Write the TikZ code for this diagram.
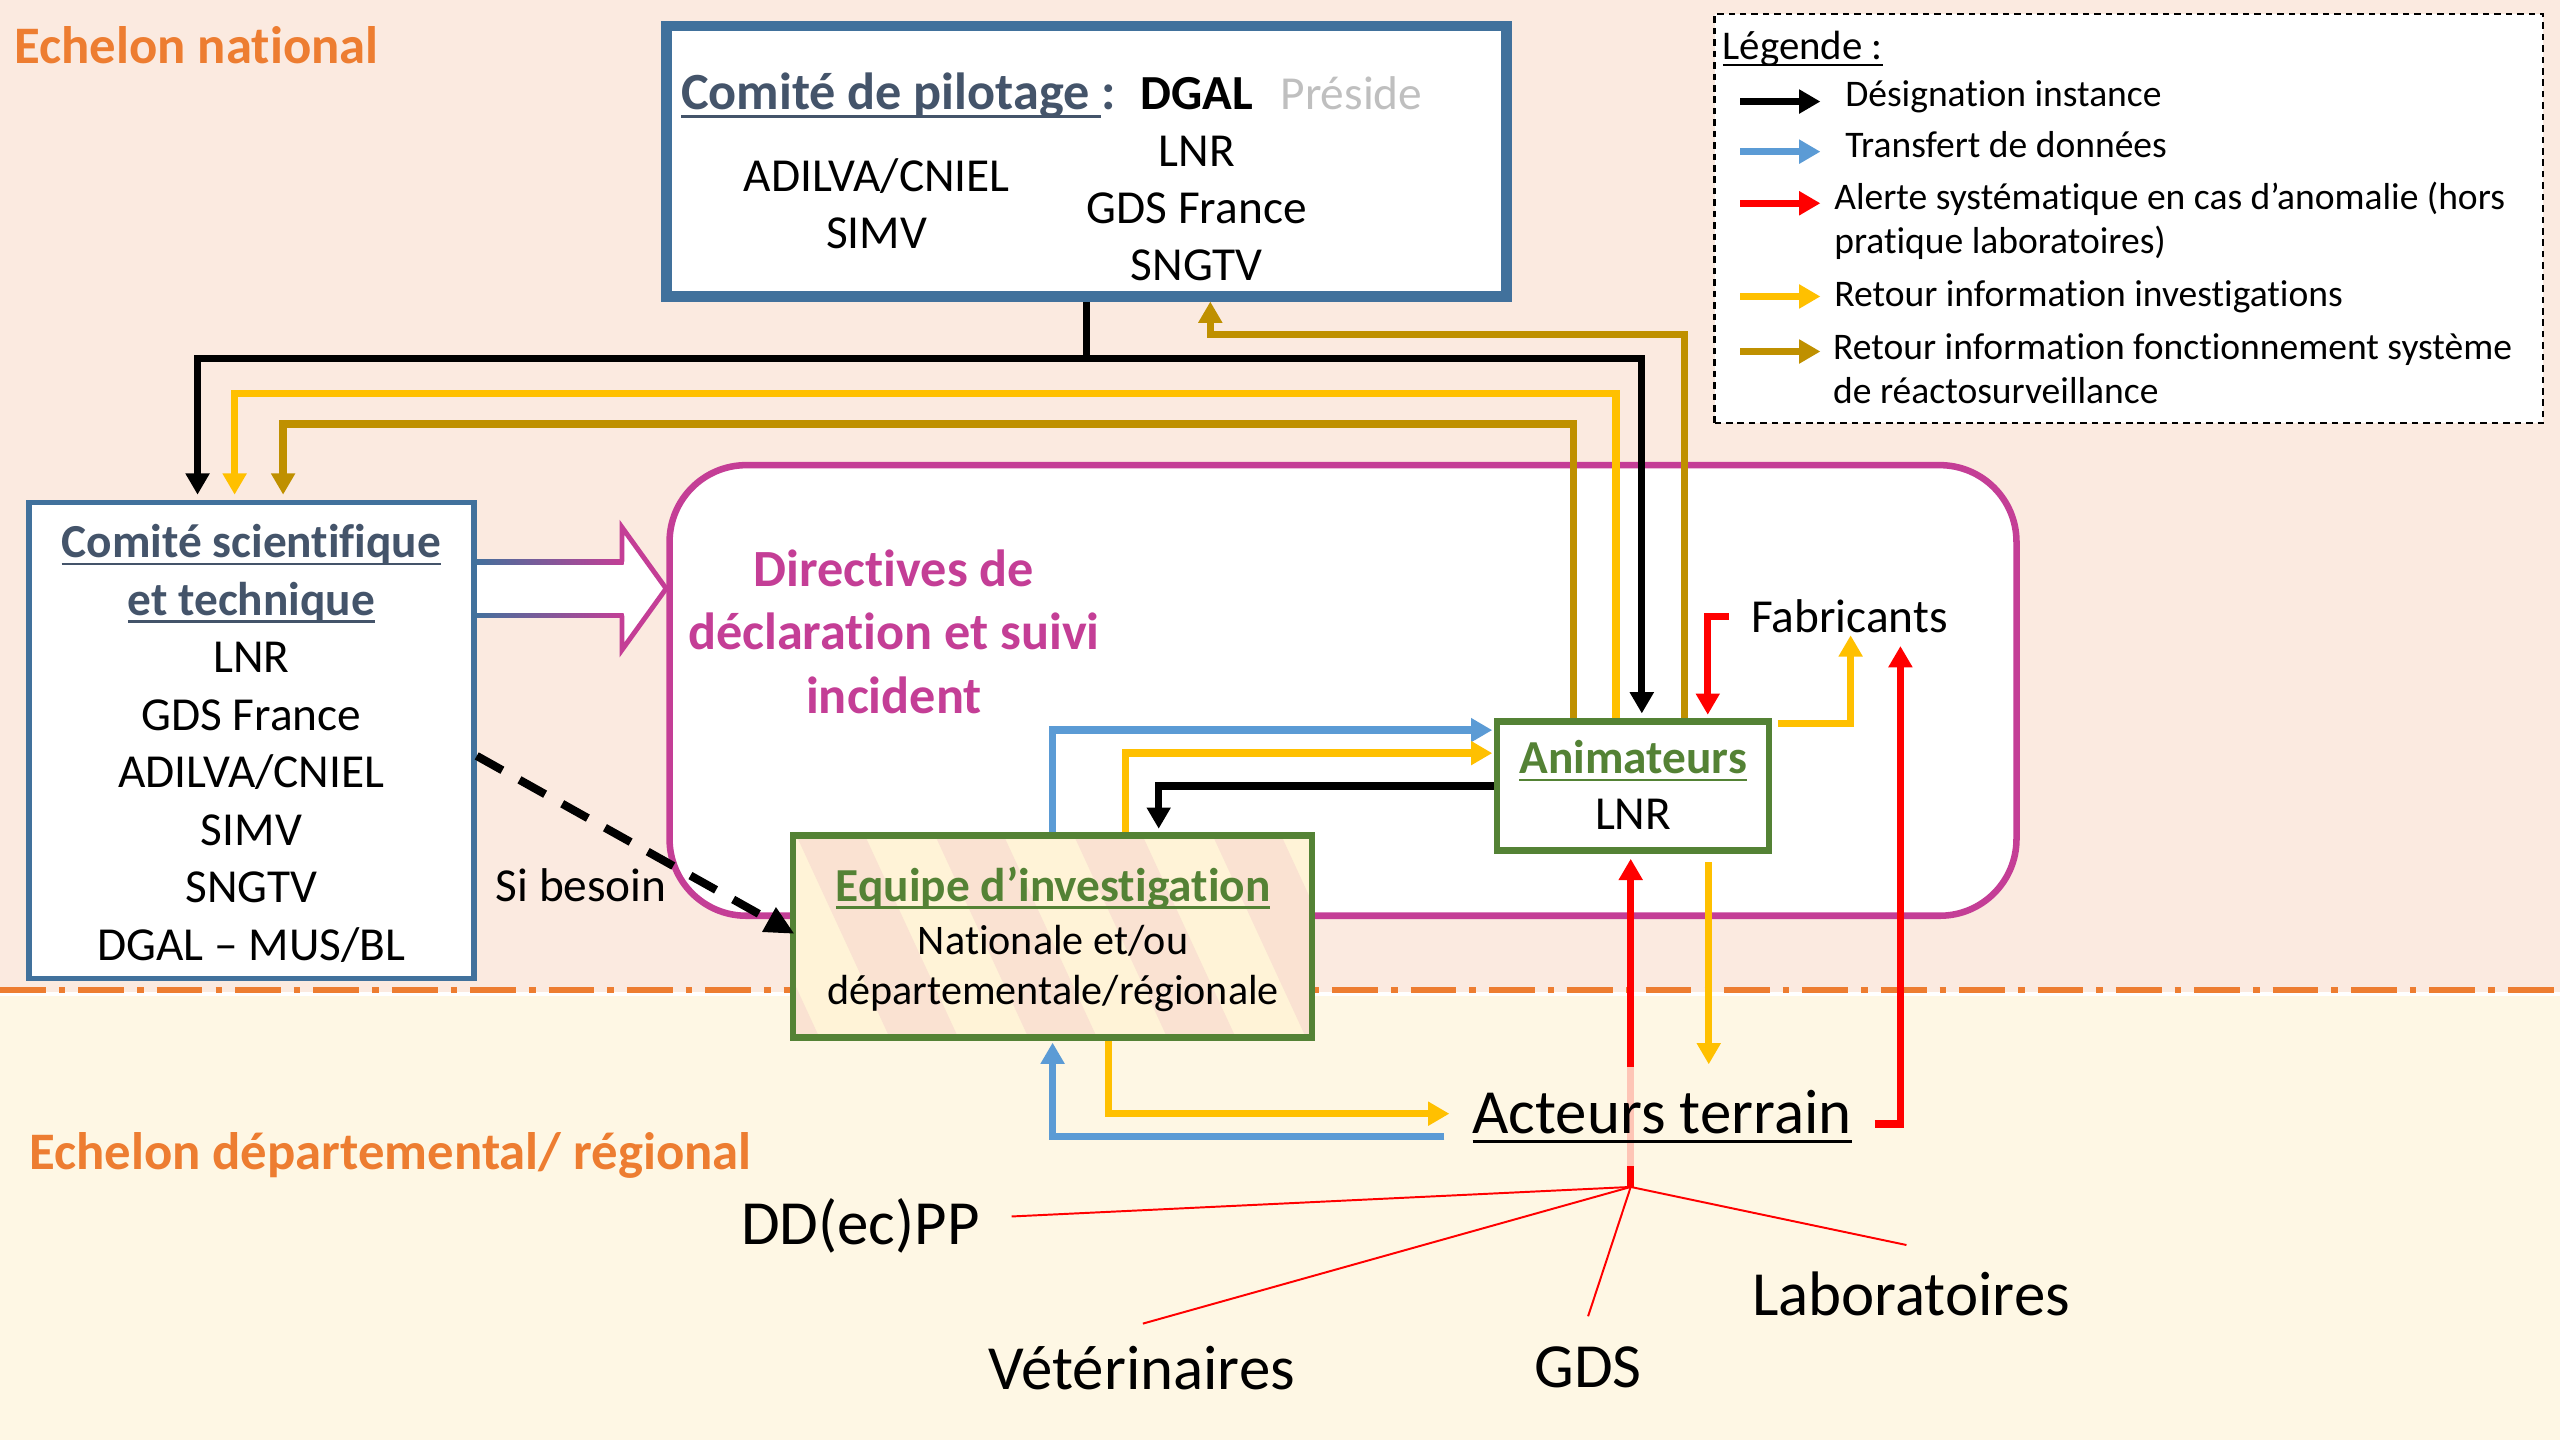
\documentclass[tikz,border=0pt]{standalone}
\usepackage{fontspec}
\setmainfont{Carlito}[Ligatures=NoCommon]
\usetikzlibrary{calc,arrows.meta}
\pgfdeclarelayer{bg}
\pgfsetlayers{bg,main}

\definecolor{natbg}{HTML}{FBEAE0}
\definecolor{regbg}{HTML}{FEF7E4}
\definecolor{cpblue}{HTML}{41719C}
\definecolor{slate}{HTML}{44546A}
\definecolor{dirmag}{HTML}{C43E96}
\definecolor{eqgreen}{HTML}{548235}
\definecolor{echorange}{HTML}{ED7D31}
\definecolor{invyellow}{HTML}{FFC000}
\definecolor{fctgold}{HTML}{BF9000}
\definecolor{datblue}{HTML}{5B9BD5}
\definecolor{presgray}{HTML}{BFBFBF}
\definecolor{stripe}{HTML}{FAE2D2}
\definecolor{eqcream}{HTML}{FFF3D7}

\newcommand{\fsz}[2]{\fontsize{#1}{#2}\selectfont}
\newcommand{\uln}[1]{\sbox0{#1}\rlap{\rule[-0.16em]{\wd0}{0.05em}}\usebox0}

\tikzset{
  lien/.style={line width=4.5pt,>={Triangle[length=13pt,width=14pt]}},
  desig/.style={lien,draw=black},
  transf/.style={lien,draw=datblue},
  alerte/.style={lien,draw=red},
  retinv/.style={lien,draw=invyellow},
  retfct/.style={lien,draw=fctgold},
  boite/.style={draw,fill=white,inner sep=0pt},
  txt/.style={inner sep=0pt,align=center,font=\fsz{29}{35.2}},
  echelon/.style={inner sep=0pt,text=echorange,font=\fsz{32.3}{38}\bfseries},
  terrain/.style={inner sep=0pt,font=\fsz{38.5}{46}},
}

\begin{document}
\begin{tikzpicture}[x=1pt,y=-1pt]
  \useasboundingbox (0,0) rectangle (1568,882);
  \begin{pgfonlayer}{bg}
    \fill[white] (0,0) rectangle (1568,882);
    \fill[natbg] (0,0) rectangle (1568,607.5);
    \fill[regbg] (0,610) rectangle (1568,882);
    \draw[echorange,line width=3.5pt,dash pattern=on 28pt off 8pt on 4pt off 8pt] (0,606.5) -- (1568,606.5);
    % cadre des directives
    \node[draw=dirmag,fill=white,line width=4pt,rounded corners=47pt,minimum width=825pt,minimum height=276pt] (dir) at (822.6,422.9) {};
    % fleche large vers les directives
    \fill[white] (290,344) -- (381,344) -- (381,323) -- (408,360.5) -- (381,398) -- (381,377) -- (290,377) -- cycle;
    \shade[left color=cpblue,right color=dirmag] (290,342.5) rectangle (382,345.5);
    \shade[left color=cpblue,right color=dirmag] (290,375.5) rectangle (382,378.5);
    \draw[dirmag,line width=3pt] (381,344) -- (381,323) -- (408,360.5) -- (381,398) -- (381,377);
  \end{pgfonlayer}

  % echelons
  \node[echelon,anchor=base west] (natl) at (8.6,39) {Echelon national};
  \node[echelon,anchor=base west] (dept) at (17.6,716.2) {Echelon départemental/ régional};

  % comite de pilotage
  \node[boite,draw=cpblue,line width=6.5pt,minimum width=514.5pt,minimum height=165.5pt] (cp) at (665.5,98.7) {};
  \node[txt,anchor=base west,text=slate,font=\fsz{32}{38}\bfseries] (cptitle) at (417,67)
    {\uln{Comité de pilotage\ }:\hspace{15pt}{\color{black}\fsz{30}{36}DGAL}\hspace{17pt}{\color{presgray}\fsz{29}{35}\mdseries Préside}};
  \node[txt,anchor=base,font=\fsz{29}{34.5}] (cpleft) at (537,152) {ADILVA/CNIEL\\SIMV};
  \node[txt,anchor=base,font=\fsz{29}{35}] (cpright) at (733,172) {LNR\\GDS France\\SNGTV};

  % comite scientifique et technique
  \node[boite,draw=cpblue,line width=3.5pt,minimum width=272.5pt,minimum height=291.5pt] (cs) at (154,453.5) {};
  \node[txt,anchor=base] (cslist) at (154,588)
    {{\bfseries\color{slate}\uln{Comité scientifique}}\\{\bfseries\color{slate}\uln{et technique}}\\LNR\\GDS France\\ADILVA/CNIEL\\SIMV\\SNGTV\\DGAL – MUS/BL};

  \node[txt,anchor=base,text=dirmag,font=\fsz{32}{39}\bfseries] (dirtxt) at (547.5,437) {Directives de\\déclaration et suivi\\incident};

  % animateurs
  \node[boite,draw=eqgreen,line width=4pt,minimum width=166.6pt,minimum height=79pt] (anim) at (1000.3,481.5) {};
  \node[txt,anchor=base,font=\fsz{29}{34}] (animtxt) at (1000.3,508) {{\bfseries\color{eqgreen}\uln{Animateurs}}\\LNR};

  % equipe d'investigation
  \node[boite,draw=eqgreen,line width=4pt,minimum width=318pt,minimum height=124pt,fill=eqcream,
        path picture={\foreach \k in {-1,...,4}
          \fill[stripe] ($(path picture bounding box.north west)+(\k*85+2,0)$) -- ++(42,0) -- ++(60,130) -- ++(-42,0) -- cycle;}] (eq) at (644.7,573.6) {};
  \node[txt,anchor=base,text=eqgreen,font=\fsz{29}{34}\bfseries] (eqtitle) at (645,552) {\uln{Equipe d’investigation}};
  \node[txt,anchor=base,font=\fsz{25.8}{30.4}] (eqbody) at (645,615) {Nationale et/ou\\départementale/régionale};

  % terrain
  \node[terrain,anchor=base,fill=regbg,fill opacity=0.8,text opacity=1,inner xsep=14pt,inner ysep=14pt] (act) at (1018,694) {\uln{Acteurs terrain}};
  \node[txt,anchor=base] (fab) at (1132.8,387.5) {Fabricants};
  \node[terrain,anchor=base] (dd) at (527,762.5) {DD(ec)PP};
  \node[terrain,anchor=base] (vet) at (699.4,850.8) {Vétérinaires};
  \node[terrain,anchor=base] (gds) at (972.7,849.6) {GDS};
  \node[terrain,anchor=base] (lab) at (1170.5,806) {Laboratoires};
  \node[txt,anchor=base] (sib) at (356,552) {Si besoin};

  % legende
  \node[draw,fill=white,line width=1.5pt,dash pattern=on 4pt off 3pt,minimum width=507.4pt,minimum height=250.7pt] (leg) at (1303.9,133.9) {};
  \node[anchor=base west,inner sep=0pt,font=\fsz{25}{30}] (legtitle) at (1055,36.3) {\uln{Légende :}};
  \foreach \sty/\ay/\tx/\ty/\lbl in {desig/62.2/1130/65.3/{Désignation instance},
      transf/92.9/1130/96.5/{Transfert de données},
      alerte/124.5/1123.3/155.5/{Alerte systématique en cas d’anomalie (hors\\pratique laboratoires)},
      retinv/181.6/1123.3/187.8/{Retour information investigations},
      retfct/215.3/1122.6/247.3/{Retour information fonctionnement système\\de réactosurveillance}} {
    \node[anchor=base west,inner sep=0pt,align=left,font=\fsz{23}{27.2}] (leg-\sty) at (\tx,\ty) {\lbl};
    \draw[\sty,->] (1066,\ay) -- (1115,\ay);
  }

  % liaisons
  \coordinate (busdes) at (0,219.7);
  \coordinate (businv) at (0,241);
  \coordinate (busfct) at (0,259.7);
  \coordinate (buscp) at (0,204.8);
  \coordinate (hub) at (998.8,727);
  \coordinate (fabtip) at (1164,395.7);

  \draw[desig] (cp.south) -- (cp.south |- busdes);
  \draw[desig,<->] ($(cs.north)+(-33,-3)$) |- ($(anim.north |- busdes)+(5.3,0)$) -- ($(anim.north)+(5.3,-3)$);
  \draw[retinv,->] ($(anim.north)+(-10.6,0)$) |- ($(cs.north |- businv)+(-10.3,0)$) -- ($(cs.north)+(-10.3,-3)$);
  \draw[retfct,->] ($(anim.north)+(-36.5,0)$) |- ($(cs.north |- busfct)+(19.4,0)$) -- ($(cs.north)+(19.4,-3)$);
  \draw[retfct,->] ($(anim.north)+(31.3,0)$) |- ($(cp.south |- buscp)+(75.8,0)$) -- ($(cp.south)+(75.8,0)$);

  \draw[transf,->] (eq.north) |- ($(anim.west)+(-1,-34.3)$);
  \draw[retinv,->] ($(eq.north)+(44.8,0)$) |- ($(anim.west)+(-1,-20.2)$);
  \draw[desig,->] (anim.west) -| ($(eq.north)+(65,-2)$);
  \draw[retinv,->] ($(eq.south)+(34.3,0)$) |- ($(act.west)+(0,-1.7)$);
  \draw[transf,->] ($(act.west)+(-3,12.3)$) -| ($(eq.south)+(0,1)$);
  \draw[retinv,->] ($(anim.south)+(46.3,5)$) -- ($(act.north)+(28.6,-1.4)$);
  \draw[alerte,->] ($(fab.west)+(-13.7,0)$) -| ($(anim.north)+(45.7,-2.2)$);
  \draw[retinv,->] ($(anim.north east)+(3.4,3)$) -| ($(fab.south)+(0.7,1.2)$);
  \draw[alerte,->] ($(act.east)+(0,4.7)$) -| (fabtip);
  \draw[line width=5pt,dash pattern=on 18pt off 12pt,-{Triangle[length=18pt,width=16pt]}] ($(cs.east)+(0,9.5)$) -- ($(eq.west)+(3,-1.6)$);

  \begin{pgfonlayer}{bg}
    \draw[alerte,->] (hub) -- ($(anim.south)+(-1.5,3)$);
  \end{pgfonlayer}
  \foreach \tgt/\dx/\dy in {dd.east/19.4/-6, vet.north/0.6/-13.4, gds.north/0/-18.2, lab.north/-2.8/-16.5}
    \draw[red,line width=1.2pt] (hub) -- ($(\tgt)+(\dx,\dy)$);
\end{tikzpicture}
\end{document}
